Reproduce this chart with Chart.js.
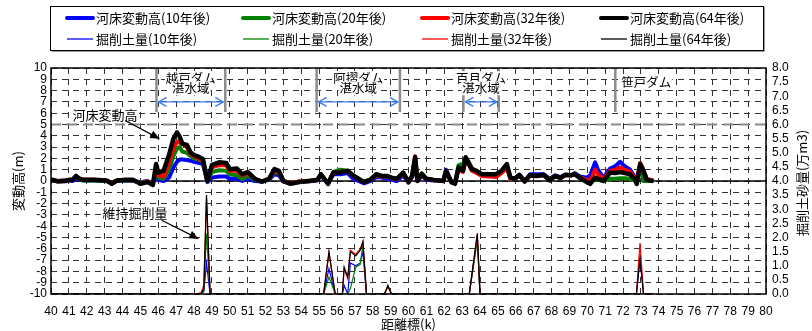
<!DOCTYPE html>
<html>
<head>
<meta charset="utf-8">
<script src="https://cdn.jsdelivr.net/npm/chart.js@4.4.1/dist/chart.umd.min.js"></script>
<style>
  body { margin: 0; background: #fff; }
  #wrap { position: relative; width: 812px; height: 331px; }
</style>
</head>
<body>
<div id="wrap"><canvas id="bedChart" width="812" height="331"></canvas></div>
<script>
// 河床変動高 (m) 距離標ごと
const bedKm = [
  40.0, 40.4, 40.8, 41.0, 41.2, 41.4, 41.6, 41.8, 42.4, 43.1,
  43.4, 43.7, 44.2, 44.6, 45.0, 45.4, 45.7, 45.88, 46.0, 46.3,
  46.6, 46.85, 47.05, 47.2, 47.35, 47.6, 47.8, 48.0, 48.25, 48.5,
  48.75, 49.0, 49.4, 49.8, 50.0, 50.4, 50.7, 51.0, 51.4, 51.8,
  52.2, 52.5, 52.75, 53.0, 53.4, 53.9, 54.5, 54.9, 55.1, 55.5,
  55.8, 56.2, 56.6, 56.9, 57.2, 57.5, 57.85, 58.2, 58.5, 58.8,
  59.05, 59.35, 59.7, 60.0, 60.2, 60.37, 60.5, 60.74, 61.0, 61.4,
  61.95, 62.1, 62.4, 62.6, 62.8, 63.05, 63.2, 63.35, 63.55, 63.8,
  64.1, 64.5, 64.9, 65.2, 65.5, 65.7, 65.95, 66.2, 66.5, 66.8,
  67.17, 67.55, 67.9, 68.2, 68.5, 68.76, 69.1, 69.3, 69.6, 69.97,
  70.16, 70.44, 70.6, 70.9, 71.28, 71.56, 71.84, 72.1, 72.4, 72.68,
  72.77, 72.96, 73.14, 73.33, 73.7
];
const bed10 = [
  0.05, 0.0, 0.05, 0.05, 0.0, 0.2, 0.1, 0.05, 0.05, 0.0,
  -0.1, 0.0, 0.05, 0.0, -0.1, 0.0, -0.2, 0.9, 0.1, 0.0,
  0.3, 1.2, 1.7, 1.9, 1.9, 1.85, 1.8, 1.7, 1.6, 1.5,
  -0.1, 0.3, 0.4, 0.4, 0.2, 0.2, 0.0, 0.2, 0.0, -0.05,
  0.1, 0.6, 0.5, -0.05, -0.2, -0.05, 0.0, 0.05, 0.5, -0.2,
  0.6, 0.6, 0.7, 0.2, 0.0, -0.2, 0.0, 0.35, 0.3, 0.2,
  0.1, 0.0, 0.5, -0.15, 0.35, 1.9, 0.0, 0.5, 0.1, 0.05,
  0.0, 1.0, -0.1, -0.2, 1.2, 1.0, 1.8, 1.5, 1.0, 0.8,
  0.55, 0.55, 0.5, 0.8, 1.3, 0.3, 0.2, 0.5, 0.0, 0.6,
  0.6, 0.6, 0.2, 0.5, 0.35, 0.55, 0.5, 0.7, 0.4, 0.3,
  0.5, 1.65, 1.0, 0.3, 1.1, 1.3, 1.7, 1.3, 1.0, 0.3,
  0.0, 1.4, 0.8, 0.1, 0.0
];
const bed20 = [
  0.1, 0.0, 0.05, 0.05, 0.1, 0.3, 0.15, 0.05, 0.05, 0.0,
  -0.15, 0.05, 0.05, 0.05, -0.15, -0.05, -0.25, 1.1, 0.3, 0.2,
  1.0, 2.2, 2.9, 3.0, 2.6, 2.5, 2.2, 2.0, 1.9, 1.7,
  -0.05, 0.8, 0.95, 0.9, 0.6, 0.5, 0.15, 0.5, 0.1, -0.05,
  0.15, 0.8, 0.7, 0.0, -0.2, -0.05, 0.05, 0.1, 0.5, -0.2,
  0.8, 1.0, 0.9, 0.5, 0.2, -0.05, 0.1, 0.55, 0.4, 0.4,
  0.25, 0.15, 0.7, -0.1, 0.4, 2.0, 0.1, 0.7, 0.2, 0.1,
  0.0, 0.8, -0.1, -0.2, 1.4, 1.5, 2.0, 1.7, 1.1, 0.9,
  0.6, 0.6, 0.55, 0.8, 1.3, 0.25, 0.2, 0.5, 0.0, 0.5,
  0.45, 0.55, 0.1, 0.45, 0.3, 0.5, 0.5, 0.65, 0.3, 0.0,
  -0.1, 0.2, 0.1, 0.0, 0.2, 0.2, 0.25, 0.25, 0.2, 0.0,
  -0.1, 1.4, 0.0, 0.0, 0.0
];
const bed32 = [
  0.1, 0.0, 0.05, 0.05, 0.1, 0.35, 0.2, 0.1, 0.1, 0.05,
  -0.2, 0.05, 0.1, 0.05, -0.2, -0.05, -0.3, 1.3, 0.5, 0.4,
  1.6, 2.9, 3.5, 3.4, 3.3, 3.0, 2.4, 2.2, 2.0, 1.8,
  0.0, 1.2, 1.4, 1.4, 0.9, 0.9, 0.5, 0.7, 0.2, -0.05,
  0.2, 0.9, 0.8, 0.0, -0.2, -0.05, 0.0, 0.1, 0.55, -0.2,
  0.7, 0.8, 0.9, 0.45, 0.15, -0.1, 0.1, 0.5, 0.4, 0.4,
  0.25, 0.15, 0.7, -0.1, 0.4, 2.2, 0.0, 0.5, 0.2, 0.1,
  0.0, 0.9, -0.1, -0.2, 1.0, 0.8, 1.9, 1.5, 0.9, 0.7,
  0.45, 0.4, 0.35, 0.7, 1.1, 0.2, 0.2, 0.5, 0.0, 0.45,
  0.45, 0.5, 0.1, 0.45, 0.3, 0.5, 0.5, 0.6, 0.3, 0.1,
  0.0, 1.0, 0.6, 0.2, 0.9, 1.0, 1.2, 1.0, 0.8, 0.2,
  -0.1, 1.6, 1.0, 0.2, 0.0
];
const bed64 = [
  0.15, -0.05, 0.0, 0.1, 0.1, 0.45, 0.2, 0.1, 0.1, 0.05,
  -0.25, 0.05, 0.1, 0.1, -0.25, -0.1, -0.35, 1.5, 0.75, 0.9,
  2.3, 3.75, 4.3, 3.9, 3.3, 3.2, 2.55, 2.3, 2.15, 1.95,
  0.0, 1.4, 1.65, 1.6, 1.05, 1.1, 0.6, 0.8, 0.2, -0.05,
  0.2, 1.05, 0.9, 0.0, -0.25, -0.1, 0.0, 0.1, 0.6, -0.25,
  0.75, 0.75, 0.9, 0.5, 0.2, -0.1, 0.1, 0.6, 0.45, 0.45,
  0.3, 0.2, 0.75, -0.1, 0.45, 2.1, 0.0, 0.6, 0.2, 0.1,
  0.0, 0.9, -0.1, -0.25, 1.2, 0.9, 2.1, 1.65, 1.05, 0.9,
  0.6, 0.6, 0.6, 0.9, 1.5, 0.3, 0.2, 0.55, -0.05, 0.5,
  0.45, 0.55, 0.05, 0.45, 0.25, 0.55, 0.5, 0.6, 0.25, -0.1,
  -0.25, 0.3, 0.2, 0.0, 0.75, 0.7, 0.8, 0.7, 0.6, 0.1,
  -0.25, 1.5, 0.9, 0.1, 0.0
];

// 掘削土量 (万m3)
const digKm = [40, 48.1, 48.4, 48.55, 48.7, 48.9, 55.25, 55.55, 55.9, 56.3,
  56.4, 56.6, 56.75, 57.05, 57.3, 57.45, 57.65, 58.65, 58.85, 59.05,
  63.4, 63.85, 64.0, 72.75, 72.95, 73.15, 73.7];
const dig10 = [0, 0, 0, 0.1, 1.1, 0, 0, 0.9, 0, 0,
  0.3, 0, 1.1, 1.0, 1.1, 1.5, 0, 0, 0, 0,
  0, 2.0, 0, 0, 1.3, 0, 0];
const dig20 = [0, 0, 0, 0.1, 2.15, 0, 0, 0.6, 0, 0,
  0, 0, 0.2, 0.95, 1.05, 1.75, 0, 0, 0.3, 0,
  0, 1.9, 0, 0, 0, 0, 0];
const dig32 = [0, 0, 0.05, 0.3, 3.4, 0, 0, 1.45, 0, 0,
  0.9, 0.55, 1.55, 1.4, 1.6, 1.85, 0, 0, 0.25, 0,
  0, 2.1, 0, 0, 1.8, 0, 0];
const dig64 = [0, 0, 0, 0.2, 3.5, 0, 0, 1.5, 0, 0,
  0.95, 0.6, 1.5, 1.35, 1.55, 1.85, 0, 0, 0.3, 0,
  0, 2.15, 0, 0, 1.25, 0, 0];

const years = ['10年後', '20年後', '32年後', '64年後'];
const colors = ['#0000ff', '#008000', '#ff0000', '#000000'];
const bedSeries = [bed10, bed20, bed32, bed64];
const digSeries = [dig10, dig20, dig32, dig64];

// ダム湛水域
const damNames = ['越戸ダム', '阿摺ダム', '百月ダム'];
const damFrom = [45.9, 54.86, 63.07];
const damTo = [49.75, 59.52, 65.05];
const sasadoKm = 71.57;

const jp = '"Noto Sans CJK JP", "Noto Sans", sans-serif';
const num = '"Liberation Sans", Arial, sans-serif';

const toPoints = (xs, ys) => xs.map((k, i) => ({ x: k, y: ys[i] }));

const datasets = [];
bedSeries.forEach((vals, i) => {
  datasets.push({
    label: '河床変動高(' + years[i] + ')',
    data: toPoints(bedKm, vals),
    yAxisID: 'y',
    borderColor: colors[i],
    borderWidth: i === 3 ? 4.5 : 4,
    borderJoinStyle: 'round',
    pointRadius: 0,
    order: 3 - i
  });
});
digSeries.forEach((vals, i) => {
  datasets.push({
    label: '掘削土量(' + years[i] + ')',
    data: toPoints(digKm, vals),
    yAxisID: 'y2',
    borderColor: colors[i],
    borderWidth: 1.2,
    pointRadius: 0,
    order: 7 - i
  });
});

function arrowHead(ctx, x1, y1, x2, y2, len, half, filled) {
  const a = Math.atan2(y2 - y1, x2 - x1);
  const bx = x2 - len * Math.cos(a), by = y2 - len * Math.sin(a);
  const px = half * Math.sin(a), py = -half * Math.cos(a);
  ctx.beginPath();
  ctx.moveTo(bx + px, by + py);
  ctx.lineTo(x2, y2);
  ctx.lineTo(bx - px, by - py);
  if (filled) { ctx.closePath(); ctx.fill(); } else { ctx.stroke(); }
}

function label(ctx, text, x, y, align) {
  const w = ctx.measureText(text).width;
  const lx = align === 'left' ? x : x - w / 2;
  ctx.fillStyle = '#fff';
  ctx.fillRect(lx - 1, y - 7, w + 2, 14);
  ctx.fillStyle = '#000';
  ctx.textAlign = align || 'center';
  ctx.fillText(text, x, y);
}

const decorations = {
  id: 'decorations',
  beforeDatasetsDraw(chart) {
    const { ctx, chartArea: a, scales: { x, y } } = chart;
    ctx.save();
    // 5m の灰色破線
    const y5 = y.getPixelForValue(5);
    ctx.strokeStyle = '#8a8a8a';
    ctx.lineWidth = 2;
    ctx.setLineDash([10, 6]);
    ctx.beginPath(); ctx.moveTo(a.left, y5); ctx.lineTo(a.right, y5); ctx.stroke();
    ctx.setLineDash([]);
    // 0m 基準線
    const y0 = y.getPixelForValue(0);
    ctx.strokeStyle = '#000';
    ctx.lineWidth = 1.5;
    ctx.beginPath(); ctx.moveTo(a.left, y0); ctx.lineTo(a.right, y0); ctx.stroke();

    // ダム区間
    const yTop = y.getPixelForValue(10), yEnd = y.getPixelForValue(6.1);
    ctx.strokeStyle = '#8c8c8c';
    ctx.lineWidth = 2.5;
    [...damFrom, ...damTo, sasadoKm].forEach(k => {
      const px = x.getPixelForValue(k);
      ctx.beginPath(); ctx.moveTo(px, yTop); ctx.lineTo(px, yEnd); ctx.stroke();
    });
    ctx.font = '12.5px ' + jp;
    ctx.textBaseline = 'middle';
    const ya = y.getPixelForValue(7);
    damNames.forEach((name, i) => {
      const x1 = x.getPixelForValue(damFrom[i]) + 2, x2 = x.getPixelForValue(damTo[i]) - 2;
      const xc = (x1 + x2) / 2;
      label(ctx, name, xc, y.getPixelForValue(9.1));
      label(ctx, '湛水域', xc, y.getPixelForValue(8.2));
      ctx.strokeStyle = '#3b7ced';
      ctx.lineWidth = 1.3;
      ctx.beginPath(); ctx.moveTo(x1, ya); ctx.lineTo(x2, ya); ctx.stroke();
      arrowHead(ctx, x2, ya, x1, ya, 8, 4.5, false);
      arrowHead(ctx, x1, ya, x2, ya, 8, 4.5, false);
    });
    label(ctx, '笹戸ダム', x.getPixelForValue(sasadoKm) + 6, y.getPixelForValue(8.7), 'left');

    // 注記の矢印
    ctx.font = '13px ' + jp;
    label(ctx, '河床変動高', x.getPixelForValue(43.02), y.getPixelForValue(5.8));
    label(ctx, '維持掘削量', x.getPixelForValue(44.7), y.getPixelForValue(-2.8));
    ctx.strokeStyle = '#000';
    ctx.fillStyle = '#000';
    ctx.lineWidth = 1.2;
    [[44.15, 5.36, 46.06, 3.75], [46.19, -3.48, 48.24, -5.1]].forEach(([k1, v1, k2, v2]) => {
      const p1 = [x.getPixelForValue(k1), y.getPixelForValue(v1)];
      const p2 = [x.getPixelForValue(k2), y.getPixelForValue(v2)];
      ctx.beginPath(); ctx.moveTo(p1[0], p1[1]); ctx.lineTo(p2[0], p2[1]); ctx.stroke();
      arrowHead(ctx, p1[0], p1[1], p2[0], p2[1], 9, 4, true);
    });
    ctx.restore();
  },
  afterDraw(chart) {
    const { ctx, chartArea: a } = chart;
    ctx.save();
    ctx.strokeStyle = '#000';
    ctx.lineWidth = 1.5;
    ctx.strokeRect(a.left, a.top, a.right - a.left, a.bottom - a.top);

    // 右軸タイトル
    ctx.translate(802, 183);
    ctx.rotate(-Math.PI / 2);
    ctx.font = '13px ' + jp;
    ctx.fillStyle = '#000';
    ctx.textAlign = 'center';
    ctx.textBaseline = 'middle';
    ctx.fillText('掘削土砂量(万m3)', 0, 0);
    ctx.restore();

    // 凡例
    ctx.save();
    ctx.fillStyle = '#fff';
    ctx.fillRect(50, 6, 713, 44);
    ctx.strokeStyle = '#9a9a9a';
    ctx.lineWidth = 1;
    ctx.beginPath(); ctx.moveTo(51.5, 51.5); ctx.lineTo(764.5, 51.5); ctx.lineTo(764.5, 7); ctx.stroke();
    ctx.strokeStyle = '#000';
    ctx.strokeRect(50.5, 6.5, 713, 44);
    const cols = [67, 243, 422, 601];
    ctx.font = '13px ' + jp;
    ctx.textBaseline = 'middle';
    ctx.textAlign = 'left';
    cols.forEach((cx, i) => {
      [[18, 4, '河床変動高'], [39, 1.3, '掘削土量']].forEach(([ry, lw, name]) => {
        ctx.strokeStyle = colors[i];
        ctx.lineWidth = lw;
        ctx.lineCap = lw > 2 ? 'round' : 'butt';
        ctx.beginPath(); ctx.moveTo(cx, ry); ctx.lineTo(cx + 26, ry); ctx.stroke();
        ctx.fillStyle = '#000';
        ctx.fillText(name + '(' + years[i] + ')', cx + 29, ry);
      });
    });
    ctx.restore();
  }
};

const gridStyle = { color: '#333', lineWidth: 1, drawTicks: false };
const tickFont = { family: num, size: 12 };

new Chart(document.getElementById('bedChart'), {
  type: 'line',
  data: { datasets },
  options: {
    responsive: false,
    animation: false,
    layout: { padding: { top: 68, left: 0, right: 0, bottom: 0 } },
    plugins: { legend: { display: false }, tooltip: { enabled: false } },
    scales: {
      x: {
        type: 'linear',
        min: 40,
        max: 80,
        grid: gridStyle,
        border: { display: false, dash: [6, 5] },
        ticks: { stepSize: 1, autoSkip: false, maxRotation: 0, color: '#000', font: tickFont, padding: 10 },
        title: { display: true, text: '距離標(k)', color: '#000', font: { family: jp, size: 13, lineHeight: 1 }, padding: 0 },
        afterFit(scale) { scale.height = 37; }
      },
      y: {
        position: 'left',
        min: -10,
        max: 10,
        grid: gridStyle,
        border: { display: false, dash: [6, 5] },
        ticks: { stepSize: 1, autoSkip: false, color: '#000', font: tickFont, padding: 4 },
        title: { display: true, text: '変動高(m)', color: '#000', font: { family: jp, size: 13 }, padding: { top: 10, bottom: 0 } },
        afterFit(scale) { scale.width = 51; }
      },
      y2: {
        position: 'right',
        min: 0,
        max: 8,
        grid: { drawOnChartArea: false, drawTicks: false },
        border: { display: false },
        ticks: { stepSize: 0.5, autoSkip: false, color: '#000', font: tickFont, padding: 6,
          callback: v => v.toFixed(1) },
        afterFit(scale) { scale.width = 46; }
      }
    }
  },
  plugins: [decorations]
});
</script>
</body>
</html>
